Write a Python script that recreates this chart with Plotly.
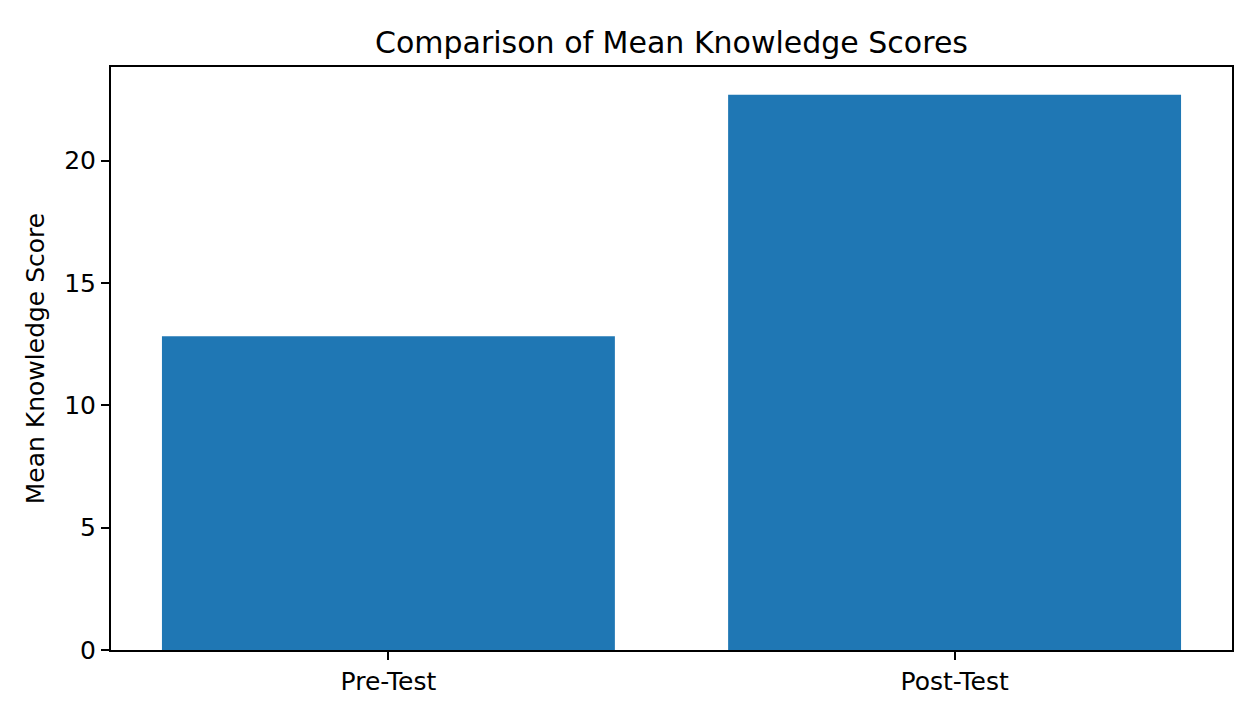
import plotly.graph_objects as go

# values
tests = ["Pre-Test", "Post-Test"]
mean_scores = [12.82, 22.69]
y_ticks = [0, 5, 10, 15, 20]

font_family = "DejaVu Sans, Arial, sans-serif"

# page has an 8px body margin, so the figure is drawn a bit smaller
W, H = 1252, 712

fig = go.Figure(
    data=[go.Bar(
        x=tests,
        y=mean_scores,
        marker=dict(color="#1f77b4", line=dict(width=0)),
        width=0.8,
        showlegend=False,
    )]
)

# matplotlib style box with 5% data margins
ymax = max(mean_scores) * 1.05

fig.update_layout(
    width=W,
    height=H,
    autosize=False,
    plot_bgcolor="white",
    paper_bgcolor="white",
    margin=dict(l=103, r=28, t=59, b=70, pad=0),
    font=dict(family=font_family, size=25, color="black"),
    title=dict(
        text="Comparison of Mean Knowledge Scores",
        x=0.5, xanchor="center",
        y=1 - 34 / H, yanchor="middle",
        xref="paper",
        font=dict(size=30, color="black"),
    ),
    bargap=0.2,
)

fig.update_xaxes(
    type="category",
    range=[-0.49, 1.49],
    showline=True, linecolor="black", linewidth=2, mirror=True,
    ticks="outside", ticklen=8, tickwidth=2, tickcolor="black",
    showgrid=False, zeroline=False,
    tickfont=dict(size=25),
)

fig.update_yaxes(
    range=[0, ymax],
    tickvals=y_ticks,
    showline=True, linecolor="black", linewidth=2, mirror=True,
    ticks="outside", ticklen=8, tickwidth=2, tickcolor="black",
    showgrid=False, zeroline=False,
    tickfont=dict(size=25),
    title=dict(text="Mean Knowledge Score", font=dict(size=25), standoff=12),
)

fig.write_html("out.html")
